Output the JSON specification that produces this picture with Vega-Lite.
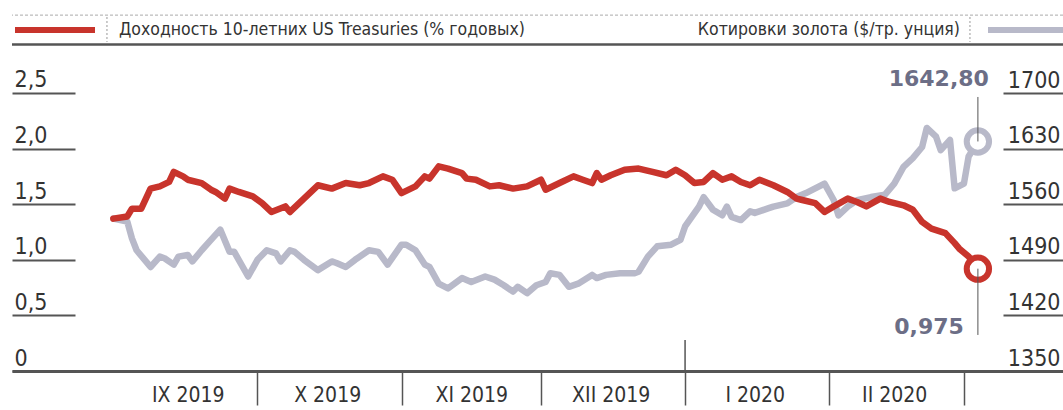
{
  "$schema": "https://vega.github.io/schema/vega-lite/v6.json",
  "width": 1051,
  "height": 371,
  "autosize": "none",
  "padding": {"left": 12, "top": 0, "right": 0, "bottom": 39},
  "background": "white",
  "config": {"view": {"stroke": null}, "font": "Liberation Sans Narrow, DejaVu Sans Condensed, sans-serif"},
  "datasets": {
    "treasury": [
      {"date": "2019-08-31", "yield": 1.37},
      {"date": "2019-09-03", "yield": 1.39},
      {"date": "2019-09-04", "yield": 1.46},
      {"date": "2019-09-06", "yield": 1.46},
      {"date": "2019-09-08", "yield": 1.64},
      {"date": "2019-09-10", "yield": 1.66},
      {"date": "2019-09-12", "yield": 1.70},
      {"date": "2019-09-13", "yield": 1.79},
      {"date": "2019-09-15", "yield": 1.75},
      {"date": "2019-09-16", "yield": 1.72},
      {"date": "2019-09-19", "yield": 1.69},
      {"date": "2019-09-21", "yield": 1.63},
      {"date": "2019-09-22", "yield": 1.61},
      {"date": "2019-09-24", "yield": 1.55},
      {"date": "2019-09-25", "yield": 1.64},
      {"date": "2019-09-27", "yield": 1.61},
      {"date": "2019-09-30", "yield": 1.57},
      {"date": "2019-10-02", "yield": 1.51},
      {"date": "2019-10-04", "yield": 1.43},
      {"date": "2019-10-07", "yield": 1.48},
      {"date": "2019-10-08", "yield": 1.43},
      {"date": "2019-10-11", "yield": 1.55},
      {"date": "2019-10-14", "yield": 1.67},
      {"date": "2019-10-17", "yield": 1.64},
      {"date": "2019-10-20", "yield": 1.69},
      {"date": "2019-10-23", "yield": 1.67},
      {"date": "2019-10-25", "yield": 1.69},
      {"date": "2019-10-28", "yield": 1.75},
      {"date": "2019-10-30", "yield": 1.72},
      {"date": "2019-11-01", "yield": 1.60},
      {"date": "2019-11-04", "yield": 1.66},
      {"date": "2019-11-06", "yield": 1.75},
      {"date": "2019-11-07", "yield": 1.73},
      {"date": "2019-11-09", "yield": 1.84},
      {"date": "2019-11-11", "yield": 1.82},
      {"date": "2019-11-14", "yield": 1.78},
      {"date": "2019-11-15", "yield": 1.73},
      {"date": "2019-11-17", "yield": 1.72},
      {"date": "2019-11-20", "yield": 1.66},
      {"date": "2019-11-22", "yield": 1.67},
      {"date": "2019-11-25", "yield": 1.64},
      {"date": "2019-11-28", "yield": 1.66},
      {"date": "2019-12-01", "yield": 1.72},
      {"date": "2019-12-02", "yield": 1.63},
      {"date": "2019-12-05", "yield": 1.69},
      {"date": "2019-12-08", "yield": 1.75},
      {"date": "2019-12-10", "yield": 1.72},
      {"date": "2019-12-12", "yield": 1.69},
      {"date": "2019-12-13", "yield": 1.78},
      {"date": "2019-12-14", "yield": 1.72},
      {"date": "2019-12-16", "yield": 1.76},
      {"date": "2019-12-19", "yield": 1.81},
      {"date": "2019-12-22", "yield": 1.82},
      {"date": "2019-12-25", "yield": 1.79},
      {"date": "2019-12-28", "yield": 1.76},
      {"date": "2019-12-30", "yield": 1.81},
      {"date": "2020-01-01", "yield": 1.76},
      {"date": "2020-01-03", "yield": 1.69},
      {"date": "2020-01-05", "yield": 1.70},
      {"date": "2020-01-07", "yield": 1.78},
      {"date": "2020-01-09", "yield": 1.72},
      {"date": "2020-01-11", "yield": 1.75},
      {"date": "2020-01-13", "yield": 1.70},
      {"date": "2020-01-15", "yield": 1.67},
      {"date": "2020-01-17", "yield": 1.72},
      {"date": "2020-01-20", "yield": 1.67},
      {"date": "2020-01-23", "yield": 1.61},
      {"date": "2020-01-25", "yield": 1.55},
      {"date": "2020-01-26", "yield": 1.54},
      {"date": "2020-01-29", "yield": 1.51},
      {"date": "2020-01-31", "yield": 1.43},
      {"date": "2020-02-02", "yield": 1.48},
      {"date": "2020-02-05", "yield": 1.55},
      {"date": "2020-02-07", "yield": 1.52},
      {"date": "2020-02-09", "yield": 1.48},
      {"date": "2020-02-12", "yield": 1.55},
      {"date": "2020-02-14", "yield": 1.52},
      {"date": "2020-02-17", "yield": 1.49},
      {"date": "2020-02-19", "yield": 1.45},
      {"date": "2020-02-21", "yield": 1.34},
      {"date": "2020-02-23", "yield": 1.28},
      {"date": "2020-02-26", "yield": 1.24},
      {"date": "2020-02-28", "yield": 1.15},
      {"date": "2020-02-29", "yield": 1.10},
      {"date": "2020-03-02", "yield": 1.03},
      {"date": "2020-03-04", "yield": 0.92, "label": "0,975"}
    ],
    "gold": [
      {"date": "2019-08-31", "gold": 1542},
      {"date": "2019-09-03", "gold": 1538},
      {"date": "2019-09-04", "gold": 1517},
      {"date": "2019-09-05", "gold": 1502},
      {"date": "2019-09-08", "gold": 1481},
      {"date": "2019-09-10", "gold": 1494},
      {"date": "2019-09-11", "gold": 1492},
      {"date": "2019-09-13", "gold": 1484},
      {"date": "2019-09-14", "gold": 1494},
      {"date": "2019-09-16", "gold": 1496},
      {"date": "2019-09-17", "gold": 1488},
      {"date": "2019-09-19", "gold": 1502},
      {"date": "2019-09-21", "gold": 1515},
      {"date": "2019-09-23", "gold": 1528},
      {"date": "2019-09-25", "gold": 1500},
      {"date": "2019-09-26", "gold": 1500},
      {"date": "2019-09-29", "gold": 1469},
      {"date": "2019-10-01", "gold": 1490},
      {"date": "2019-10-03", "gold": 1502},
      {"date": "2019-10-05", "gold": 1498},
      {"date": "2019-10-06", "gold": 1488},
      {"date": "2019-10-08", "gold": 1502},
      {"date": "2019-10-09", "gold": 1500},
      {"date": "2019-10-11", "gold": 1490},
      {"date": "2019-10-14", "gold": 1477},
      {"date": "2019-10-17", "gold": 1488},
      {"date": "2019-10-18", "gold": 1486},
      {"date": "2019-10-20", "gold": 1481},
      {"date": "2019-10-22", "gold": 1490},
      {"date": "2019-10-25", "gold": 1502},
      {"date": "2019-10-27", "gold": 1500},
      {"date": "2019-10-29", "gold": 1484},
      {"date": "2019-11-01", "gold": 1509},
      {"date": "2019-11-02", "gold": 1509},
      {"date": "2019-11-04", "gold": 1502},
      {"date": "2019-11-06", "gold": 1484},
      {"date": "2019-11-07", "gold": 1481},
      {"date": "2019-11-09", "gold": 1460},
      {"date": "2019-11-11", "gold": 1454},
      {"date": "2019-11-14", "gold": 1467},
      {"date": "2019-11-16", "gold": 1462},
      {"date": "2019-11-19", "gold": 1469},
      {"date": "2019-11-21", "gold": 1465},
      {"date": "2019-11-23", "gold": 1458},
      {"date": "2019-11-25", "gold": 1450},
      {"date": "2019-11-26", "gold": 1456},
      {"date": "2019-11-28", "gold": 1448},
      {"date": "2019-11-30", "gold": 1458},
      {"date": "2019-12-02", "gold": 1462},
      {"date": "2019-12-03", "gold": 1473},
      {"date": "2019-12-05", "gold": 1471},
      {"date": "2019-12-07", "gold": 1456},
      {"date": "2019-12-09", "gold": 1460},
      {"date": "2019-12-12", "gold": 1471},
      {"date": "2019-12-13", "gold": 1467},
      {"date": "2019-12-15", "gold": 1471},
      {"date": "2019-12-18", "gold": 1473},
      {"date": "2019-12-21", "gold": 1473},
      {"date": "2019-12-22", "gold": 1475},
      {"date": "2019-12-24", "gold": 1494},
      {"date": "2019-12-26", "gold": 1507},
      {"date": "2019-12-29", "gold": 1509},
      {"date": "2019-12-31", "gold": 1515},
      {"date": "2020-01-01", "gold": 1532},
      {"date": "2020-01-04", "gold": 1557},
      {"date": "2020-01-05", "gold": 1569},
      {"date": "2020-01-07", "gold": 1553},
      {"date": "2020-01-09", "gold": 1546},
      {"date": "2020-01-10", "gold": 1557},
      {"date": "2020-01-11", "gold": 1544},
      {"date": "2020-01-13", "gold": 1540},
      {"date": "2020-01-15", "gold": 1551},
      {"date": "2020-01-16", "gold": 1549},
      {"date": "2020-01-19", "gold": 1555},
      {"date": "2020-01-20", "gold": 1557},
      {"date": "2020-01-23", "gold": 1561},
      {"date": "2020-01-25", "gold": 1569},
      {"date": "2020-01-27", "gold": 1574},
      {"date": "2020-01-29", "gold": 1580},
      {"date": "2020-01-31", "gold": 1586},
      {"date": "2020-02-02", "gold": 1565},
      {"date": "2020-02-03", "gold": 1546},
      {"date": "2020-02-05", "gold": 1557},
      {"date": "2020-02-07", "gold": 1565},
      {"date": "2020-02-10", "gold": 1569},
      {"date": "2020-02-13", "gold": 1572},
      {"date": "2020-02-15", "gold": 1586},
      {"date": "2020-02-17", "gold": 1607},
      {"date": "2020-02-19", "gold": 1618},
      {"date": "2020-02-21", "gold": 1632},
      {"date": "2020-02-22", "gold": 1656},
      {"date": "2020-02-24", "gold": 1645},
      {"date": "2020-02-25", "gold": 1628},
      {"date": "2020-02-27", "gold": 1641},
      {"date": "2020-02-28", "gold": 1580},
      {"date": "2020-03-01", "gold": 1586},
      {"date": "2020-03-02", "gold": 1620},
      {"date": "2020-03-04", "gold": 1639, "label": "1642,80"}
    ]
  },
  "layer": [
    {
      "data": {"name": "gold"},
      "mark": {"type": "line", "strokeWidth": 6.5, "strokeJoin": "round", "strokeCap": "round"},
      "encoding": {
        "x": {
          "field": "date", "type": "temporal",
          "scale": {"type": "utc", "domain": [1565325561600, 1584861984000], "nice": false},
          "axis": {
            "orient": "bottom",
            "values": [
              {"year": 2019, "month": "sep", "date": 16, "utc": true},
              {"year": 2019, "month": "oct", "date": 16, "utc": true},
              {"year": 2019, "month": "nov", "date": 16, "utc": true},
              {"year": 2019, "month": "dec", "date": 16, "utc": true},
              {"year": 2020, "month": "jan", "date": 16, "utc": true},
              {"year": 2020, "month": "feb", "date": 15, "utc": true}
            ],
            "ticks": false, "domain": false, "grid": false, "title": null,
            "labelExpr": "['I','II','III','IV','V','VI','VII','VIII','IX','X','XI','XII'][utcmonth(datum.value)] + ' ' + utcyear(datum.value)",
            "labelFontSize": 21, "labelColor": "#333", "labelPadding": 30,
            "labelBaseline": "alphabetic", "labelFlush": false
          }
        },
        "y": {
          "field": "gold", "type": "quantitative",
          "scale": {"domain": [1350, 1817.1], "nice": false, "zero": false},
          "axis": {
            "orient": "right", "offset": -60,
            "values": [1350, 1420, 1490, 1560, 1630, 1700], "format": "d",
            "domain": false, "grid": false, "title": null,
            "tickSize": 60, "tickColor": "#555", "tickWidth": 2,
            "labelAlign": "right", "labelPadding": -3, "labelBaseline": "alphabetic",
            "labelOffset": -6, "labelFontSize": 23, "labelColor": "#333", "labelFlush": false
          }
        },
        "color": {
          "datum": "Котировки золота ($/тр. унция)",
          "scale": {"range": ["#b8b9c9"]},
          "legend": {
            "orient": "none", "legendX": 973, "legendY": -13, "padding": 0,
            "title": null, "labelFontSize": 17.5, "labelColor": "#333",
            "labelAlign": "right", "labelOffset": -111, "labelLimit": 600,
            "symbolType": "stroke", "symbolSize": 6400, "symbolStrokeWidth": 6
          }
        }
      }
    },
    {
      "data": {"name": "gold"},
      "transform": [{"filter": "datum.label"}],
      "mark": {"type": "point", "shape": "circle", "filled": true, "fill": "white", "stroke": "#b8b9c9", "strokeWidth": 6, "size": 500, "opacity": 1},
      "encoding": {
        "x": {"field": "date", "type": "temporal", "axis": null},
        "y": {"field": "gold", "type": "quantitative", "scale": {"domain": [1350, 1817.1], "nice": false, "zero": false}, "axis": null}
      }
    },
    {
      "data": {"name": "gold"},
      "transform": [{"filter": "datum.label"}],
      "mark": {"type": "rule", "stroke": "#555", "strokeWidth": 1},
      "encoding": {
        "x": {"field": "date", "type": "temporal", "axis": null},
        "y": {"field": "gold", "type": "quantitative", "scale": {"domain": [1350, 1817.1], "nice": false, "zero": false}, "axis": null},
        "y2": {"datum": 1695}
      }
    },
    {
      "data": {"name": "gold"},
      "transform": [{"filter": "datum.label"}],
      "mark": {"type": "text", "align": "right", "baseline": "alphabetic", "dx": 11, "dy": -55, "font": "DejaVu Sans", "fontWeight": "bold", "fontSize": 22, "fill": "#6c6e86"},
      "encoding": {
        "x": {"field": "date", "type": "temporal", "axis": null},
        "y": {"field": "gold", "type": "quantitative", "scale": {"domain": [1350, 1817.1], "nice": false, "zero": false}, "axis": null},
        "text": {"field": "label"}
      }
    },
    {
      "data": {"name": "treasury"},
      "mark": {"type": "line", "strokeWidth": 6.5, "strokeJoin": "round", "strokeCap": "round"},
      "encoding": {
        "x": {
          "field": "date", "type": "temporal",
          "scale": {"type": "utc", "domain": [1565325561600, 1584861984000], "nice": false},
          "axis": {
            "orient": "bottom",
            "values": [
              {"year": 2019, "month": "oct", "date": 1, "utc": true},
              {"year": 2019, "month": "nov", "date": 1, "utc": true},
              {"year": 2019, "month": "dec", "date": 1, "utc": true},
              {"year": 2020, "month": "jan", "date": 1, "utc": true},
              {"year": 2020, "month": "feb", "date": 1, "utc": true},
              {"year": 2020, "month": "mar", "date": 1, "utc": true}
            ],
            "labels": false, "grid": false, "title": null,
            "domain": true, "domainColor": "#555", "domainWidth": 3,
            "ticks": true, "tickSize": 34, "tickColor": "#555", "tickWidth": 1.5
          }
        },
        "y": {
          "field": "yield", "type": "quantitative",
          "scale": {"domain": [0, 3.336], "nice": false, "zero": false},
          "axis": {
            "orient": "left", "offset": -63,
            "values": [0, 0.5, 1, 1.5, 2, 2.5],
            "domain": false, "grid": false, "title": null,
            "tickSize": 63, "tickColor": "#555", "tickWidth": 2,
            "labelAlign": "left", "labelPadding": -2, "labelBaseline": "alphabetic",
            "labelOffset": -6, "labelFontSize": 23, "labelColor": "#333", "labelFlush": false,
            "labelExpr": "datum.value == 0 ? '0' : replace(format(datum.value, '.1f'), '.', ',')"
          }
        },
        "color": {
          "datum": "Доходность 10-летних US Treasuries (% годовых)",
          "scale": {"range": ["#c8342c"]},
          "legend": {
            "orient": "none", "legendX": 0, "legendY": -13, "padding": 0,
            "title": null, "labelFontSize": 17.5, "labelColor": "#333",
            "labelOffset": 21, "labelLimit": 600,
            "symbolType": "stroke", "symbolSize": 6400, "symbolStrokeWidth": 6
          }
        }
      }
    },
    {
      "data": {"name": "treasury"},
      "transform": [{"filter": "datum.label"}],
      "mark": {"type": "point", "shape": "circle", "filled": true, "fill": "white", "stroke": "#c8342c", "strokeWidth": 6, "size": 500, "opacity": 1},
      "encoding": {
        "x": {"field": "date", "type": "temporal", "axis": null},
        "y": {"field": "yield", "type": "quantitative", "scale": {"domain": [0, 3.336], "nice": false, "zero": false}, "axis": null}
      }
    },
    {
      "data": {"name": "treasury"},
      "transform": [{"filter": "datum.label"}],
      "mark": {"type": "rule", "stroke": "#555", "strokeWidth": 1},
      "encoding": {
        "x": {"field": "date", "type": "temporal", "axis": null},
        "y": {"field": "yield", "type": "quantitative", "scale": {"domain": [0, 3.336], "nice": false, "zero": false}, "axis": null},
        "y2": {"datum": 0.324}
      }
    },
    {
      "data": {"name": "treasury"},
      "transform": [{"filter": "datum.label"}],
      "mark": {"type": "text", "align": "right", "baseline": "alphabetic", "dx": -14, "dy": 65, "font": "DejaVu Sans", "fontWeight": "bold", "fontSize": 22, "fill": "#6c6e86"},
      "encoding": {
        "x": {"field": "date", "type": "temporal", "axis": null},
        "y": {"field": "yield", "type": "quantitative", "scale": {"domain": [0, 3.336], "nice": false, "zero": false}, "axis": null},
        "text": {"field": "label"}
      }
    },
    {
      "data": {"values": [{}]},
      "mark": {"type": "rule", "stroke": "#555", "strokeWidth": 1.5},
      "encoding": {
        "x": {"datum": {"year": 2020, "month": "jan", "date": 1, "utc": true}, "type": "temporal", "axis": null},
        "y": {"datum": 0.279, "type": "quantitative", "scale": {"domain": [0, 3.336], "nice": false, "zero": false}, "axis": null},
        "y2": {"datum": 0}
      }
    },
    {
      "data": {"values": [{}]},
      "mark": {"type": "rule", "stroke": "#aaa", "strokeWidth": 1, "strokeDash": [3, 2]},
      "encoding": {
        "y": {"datum": 3.2, "type": "quantitative", "scale": {"domain": [0, 3.336], "nice": false, "zero": false}, "axis": null}
      }
    },
    {
      "data": {"values": [{}]},
      "mark": {"type": "rule", "stroke": "#555", "strokeWidth": 2.5},
      "encoding": {
        "y": {"datum": 2.936, "type": "quantitative", "scale": {"domain": [0, 3.336], "nice": false, "zero": false}, "axis": null}
      }
    },
    {
      "data": {"values": [{}]},
      "mark": {"type": "rule", "stroke": "#999", "strokeWidth": 1, "strokeDash": [2, 2]},
      "encoding": {
        "x": {"datum": {"year": 2019, "month": "aug", "date": 29, "hours": 15, "utc": true}, "type": "temporal", "axis": null},
        "y": {"datum": 3.183, "type": "quantitative", "scale": {"domain": [0, 3.336], "nice": false, "zero": false}, "axis": null},
        "y2": {"datum": 2.959}
      }
    },
    {
      "data": {"values": [{}]},
      "mark": {"type": "rule", "stroke": "#999", "strokeWidth": 1, "strokeDash": [2, 2]},
      "encoding": {
        "x": {"datum": {"year": 2020, "month": "mar", "date": 2, "hours": 7, "utc": true}, "type": "temporal", "axis": null},
        "y": {"datum": 3.183, "type": "quantitative", "scale": {"domain": [0, 3.336], "nice": false, "zero": false}, "axis": null},
        "y2": {"datum": 2.959}
      }
    }
  ],
  "resolve": {
    "scale": {"y": "independent", "color": "independent"},
    "axis": {"x": "independent", "y": "independent"}
  }
}
